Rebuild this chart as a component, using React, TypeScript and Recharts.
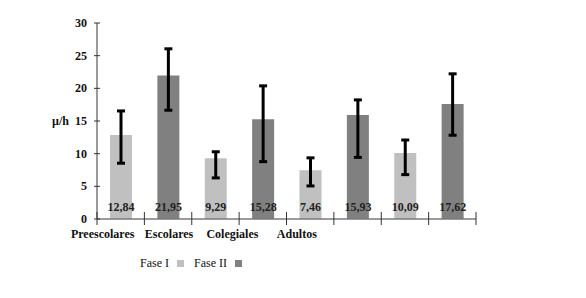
import React from "react";
import { BarChart, Bar, XAxis, YAxis, Cell, ErrorBar, LabelList, Legend } from "recharts";

const categories = ["b1", "b2", "b3", "b4", "b5", "b6", "b7", "b8"];
const tickLabels = ["Preescolares", "Escolares", "Colegiales", "Adultos", "", "", "", ""];
const phases = ["Fase I", "Fase II", "Fase I", "Fase II", "Fase I", "Fase II", "Fase I", "Fase II"];
const values = [12.84, 21.95, 9.29, 15.28, 7.46, 15.93, 10.09, 17.62];
const errLow = [4.3, 5.3, 3.0, 6.5, 2.4, 6.5, 3.3, 4.8];
const errHigh = [3.7, 4.1, 1.0, 5.1, 1.9, 2.3, 2.0, 4.6];
const yTicks = [0, 5, 10, 15, 20, 25, 30];
const labelDx = [-18, 1, 17, 34, 0, 0, 0, 0];

const phaseColors: Record<string, string> = { "Fase I": "#c0c0c0", "Fase II": "#808080" };

const data = categories.map((c, i) => ({
  cat: c,
  value: values[i],
  err: [errLow[i], errHigh[i]],
  phase: phases[i],
}));

const FONT = "'Liberation Serif', 'Times New Roman', serif";
const AXIS = "#7a7a7a";
const BAND = 379 / 8;

const XTick = (props: any) => {
  const { x, y, index } = props;
  const bx = x - BAND / 2;
  return (
    <g>
      <line x1={bx} x2={bx} y1={y - 7} y2={y + 6} stroke="#333" strokeWidth={1} />
      {index === categories.length - 1 && (
        <line x1={x + BAND / 2} x2={x + BAND / 2} y1={y - 7} y2={y + 6} stroke="#333" strokeWidth={1} />
      )}
      <text
        x={x + labelDx[index]}
        y={y + 19}
        textAnchor="middle"
        fontFamily={FONT}
        fontWeight="bold"
        fontSize={12}
        fill="#111"
      >
        {tickLabels[index]}
      </text>
    </g>
  );
};

const YTick = (props: any) => {
  const { x, y, payload } = props;
  return (
    <g>
      <line x1={x - 3} x2={x + 3} y1={y} y2={y} stroke="#333" strokeWidth={1} />
      <text
        x={x - 10}
        y={y + 4}
        textAnchor="end"
        fontFamily={FONT}
        fontWeight="bold"
        fontSize={12}
        fill="#111"
      >
        {payload.value}
      </text>
    </g>
  );
};

const LegendContent = () => (
  <div style={{ display: "flex", alignItems: "center", fontFamily: FONT, fontSize: 12, color: "#111" }}>
    {["Fase I", "Fase II"].map((p) => (
      <div key={p} style={{ display: "flex", alignItems: "center", marginRight: 10 }}>
        <span>{p}</span>
        <span
          style={{
            display: "inline-block",
            width: 7,
            height: 7,
            background: phaseColors[p],
            marginLeft: 8,
          }}
        />
      </div>
    ))}
  </div>
);

export default function App() {
  return (
    <div style={{ position: "absolute", left: 0, top: 0, background: "#fff" }}>
      <BarChart
        width={586}
        height={298}
        data={data}
        margin={{ top: 23, right: 110, left: 0, bottom: 49 }}
        barCategoryGap={0}
      >
        <XAxis
          dataKey="cat"
          tick={<XTick />}
          tickLine={false}
          tickSize={0}
          tickMargin={0}
          axisLine={{ stroke: AXIS, strokeWidth: 1.5 }}
          height={30}
          interval={0}
        />
        <YAxis
          domain={[0, 30]}
          ticks={yTicks}
          width={97}
          tick={<YTick />}
          tickLine={false}
          tickSize={0}
          tickMargin={0}
          axisLine={{ stroke: AXIS, strokeWidth: 1.5 }}
          label={{
            value: "µ/h",
            position: "insideLeft",
            offset: 52,
            fontFamily: FONT,
            fontWeight: "bold",
            fontSize: 12,
            fill: "#111",
          }}
        />
        <Legend
          verticalAlign="middle"
          content={<LegendContent />}
          wrapperStyle={{ position: "absolute", left: 140, top: 256, width: "auto" }}
        />
        <Bar dataKey="value" barSize={22} isAnimationActive={false}>
          {data.map((d, i) => (
            <Cell key={i} fill={phaseColors[d.phase]} />
          ))}
          <ErrorBar dataKey="err" width={4} stroke="#000" strokeWidth={3} isAnimationActive={false} />
          <LabelList
            dataKey="value"
            position="insideBottom"
            offset={8}
            formatter={(v: any) => String(v).replace(".", ",")}
            style={{ fontFamily: FONT, fontWeight: "bold", fontSize: 12, fill: "#222" }}
          />
        </Bar>
      </BarChart>
    </div>
  );
}
